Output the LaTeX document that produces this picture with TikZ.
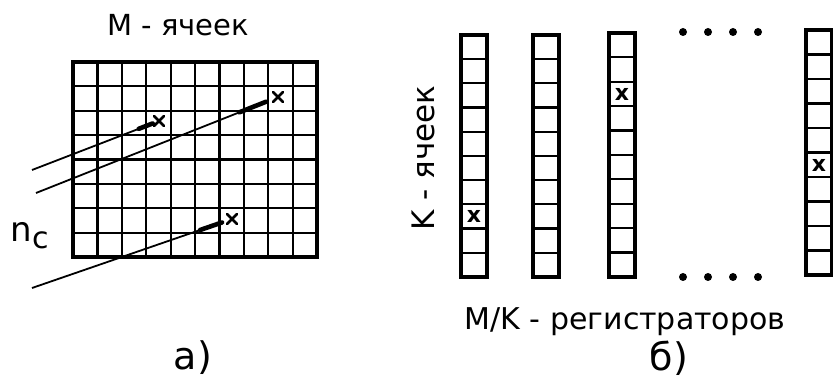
\documentclass[tikz,border=0pt]{standalone}
\usepackage{fontspec}
\setmainfont{DejaVu Sans}
\usetikzlibrary{calc}
\tikzset{
  frame/.style={draw, line width=3.2pt, inner sep=0pt, outer sep=0pt},
  cellline/.style={line width=2.2pt},
  track/.style={line width=1.8pt},
  shaft/.style={line width=4.6pt, line cap=round},
  crossmark/.style={line width=2.8pt, line cap=round},
  lbl/.style={inner sep=0pt, font=\fontsize{29}{32}\selectfont},
  biglbl/.style={inner sep=0pt, font=\fontsize{38}{40}\selectfont},
  regx/.style={inner sep=0pt, font=\fontsize{22}{22}\selectfont\bfseries},
  dotmark/.style={circle, fill, inner sep=0pt, minimum size=8pt}
}
\begin{document}
\begin{tikzpicture}[x=1pt,y=-1pt]
\useasboundingbox (0,0) rectangle (833,387);

% ---------- a) grid ----------
\foreach \i in {1,...,9}
  \draw[cellline] (73+\i*24.4,62) -- (73+\i*24.4,257);
\foreach \j in {1,...,7}
  \draw[cellline] (73,62+\j*24.4) -- (317,62+\j*24.4);
\node[frame, minimum width=244pt, minimum height=195pt, anchor=north west] (grid) at (73,62) {};

\node[lbl] (title) at (178,25) {M - ячеек};
\node[inner sep=0pt] (nc) at (30,236) {\fontsize{34}{34}\selectfont n\raisebox{-7pt}{\fontsize{30}{30}\selectfont c}};
\node[biglbl] (la) at (193,358) {а)};

% tracks
\coordinate (s1) at (32,170);  \coordinate (m1) at (159,121);
\coordinate (s2) at (36,193);  \coordinate (m2) at (278,97);
\coordinate (s3) at (32,288);  \coordinate (m3) at (232,219);
\foreach \k in {1,2,3}{
  \draw[track] (s\k) -- ($(s\k)!0.9!(m\k)$);
  \draw[shaft] ($(s\k)!0.84!(m\k)$) -- ($(s\k)!0.95!(m\k)$);
  \draw[crossmark] ($(m\k)+(-5,-5)$) -- ($(m\k)+(5,5)$);
  \draw[crossmark] ($(m\k)+(-5,5)$) -- ($(m\k)+(5,-5)$);
}

% ---------- b) registers ----------
\foreach \n/\x/\t/\b in {r1/474/35/277, r2/546/35/277, r3/622/33/277, r4/819/30/275}{
  \foreach \k in {1,...,9}
    \draw[cellline] (\x-13,{\t+\k*(\b-\t)/10}) -- (\x+13,{\t+\k*(\b-\t)/10});
  \node[frame, minimum width=26pt, minimum height={(\b-\t)*1pt}, anchor=north] (\n) at (\x,\t) {};
}
\node[regx] (x1) at (474,216) {x};
\node[regx] (x3) at (622,94) {x};
\node[regx] (x4) at (819,165) {x};

\foreach \d/\x in {1/683,2/708,3/733,4/758}{
  \node[dotmark] (dt\d) at (\x,32) {};
  \node[dotmark] (db\d) at (\x,277) {};
}

\node[lbl, rotate=90, font=\fontsize{31}{33}\selectfont] (kl) at (423,158) {K - ячеек};
\node[lbl, font=\fontsize{30}{33}\selectfont] (ml) at (625,322) {M/K - регистраторов};
\node[biglbl] (lb) at (669,358) {б)};
\end{tikzpicture}
\end{document}
